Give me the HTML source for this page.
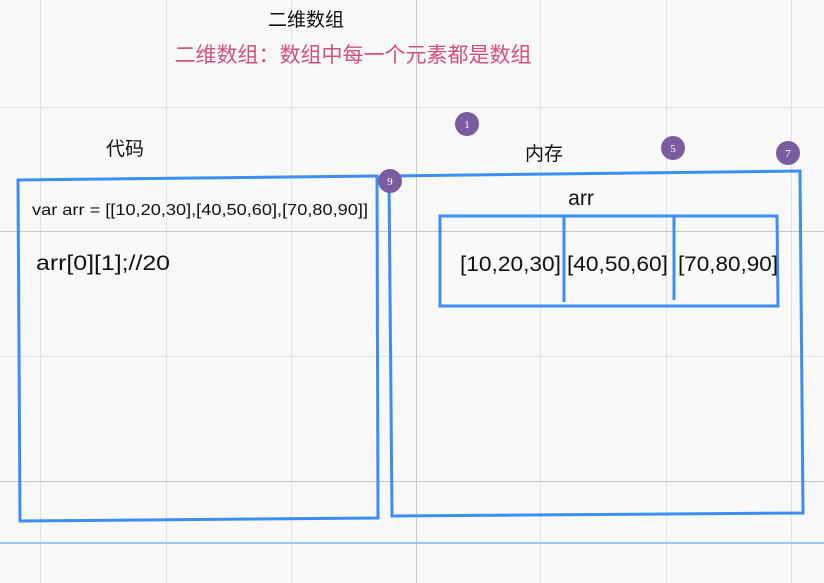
<!DOCTYPE html>
<html><head><meta charset="utf-8"><style>
html,body{margin:0;padding:0;background:#f8f8f8;}
svg{display:block;font-family:"Liberation Sans","Noto Sans CJK SC",sans-serif;}
</style></head><body>
<svg width="824" height="583" viewBox="0 0 824 583">
<rect width="824" height="583" fill="#f8f8f8"/>
<g stroke="#e2e2e2" stroke-width="1">
<line x1="40.5" y1="0" x2="40.5" y2="583"/>
<line x1="166.5" y1="0" x2="166.5" y2="583"/>
<line x1="291.5" y1="0" x2="291.5" y2="583"/>
<line x1="540.5" y1="0" x2="540.5" y2="583"/>
<line x1="666.5" y1="0" x2="666.5" y2="583"/>
<line x1="791.5" y1="0" x2="791.5" y2="583"/>
<line x1="0" y1="107.5" x2="824" y2="107.5"/>
<line x1="0" y1="356.5" x2="824" y2="356.5"/>
</g>
<g stroke="#c8c8c8" stroke-width="1">
<line x1="416.5" y1="0" x2="416.5" y2="583"/>
<line x1="0" y1="231.5" x2="824" y2="231.5"/>
<line x1="0" y1="481.5" x2="824" y2="481.5"/>
</g>
<line x1="0" y1="543" x2="824" y2="543" stroke="#9cc4f5" stroke-width="2"/>

<text x="306" y="26" font-size="19" fill="#111" text-anchor="middle">二维数组</text>
<text x="353" y="62" font-size="21" fill="#d6507a" text-anchor="middle">二维数组：数组中每一个元素都是数组</text>
<text x="125" y="155" font-size="19" fill="#111" text-anchor="middle">代码</text>
<text x="544" y="160" font-size="19" fill="#111" text-anchor="middle">内存</text>

<g fill="none" stroke="#3a8ef6" stroke-width="3">
<path d="M18 180 L377 176 L378 518 L20 521 Z"/>
<path d="M389 176 L800 171 L803 513 L392 516 Z"/>
<path d="M440 216 L777 216 L778 306 L440 306 Z"/>
<line x1="564" y1="216" x2="564" y2="302"/>
<line x1="674" y1="216" x2="674" y2="300"/>
</g>

<text x="32" y="215" font-size="16" fill="#111" textLength="336" lengthAdjust="spacingAndGlyphs">var arr = [[10,20,30],[40,50,60],[70,80,90]]</text>
<text x="36" y="270" font-size="21" fill="#111" textLength="134" lengthAdjust="spacingAndGlyphs">arr[0][1];//20</text>
<text x="581" y="205" font-size="21" fill="#111" text-anchor="middle">arr</text>
<text x="460" y="271" font-size="21" fill="#111" textLength="101" lengthAdjust="spacingAndGlyphs">[10,20,30]</text>
<text x="567" y="271" font-size="21" fill="#111" textLength="101" lengthAdjust="spacingAndGlyphs">[40,50,60]</text>
<text x="678" y="271" font-size="21" fill="#111" textLength="100" lengthAdjust="spacingAndGlyphs">[70,80,90]</text>

<g font-size="11" fill="#fff" text-anchor="middle" font-family="Liberation Serif,serif">
<g><circle cx="467" cy="124" r="12" fill="#7a5da0"/><text x="467" y="128">1</text></g>
<g><circle cx="673" cy="148" r="12" fill="#7a5da0"/><text x="673" y="152">5</text></g>
<g><circle cx="788" cy="153" r="12" fill="#7a5da0"/><text x="788" y="157">7</text></g>
<g><circle cx="390" cy="181" r="12" fill="#7a5da0"/><text x="390" y="185">9</text></g>
</g>
</svg>
</body></html>
